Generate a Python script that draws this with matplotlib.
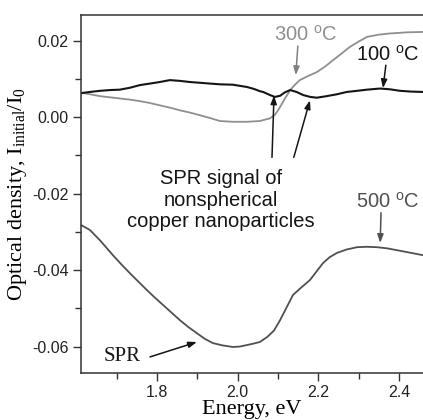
import matplotlib
matplotlib.use('Agg')
import matplotlib.pyplot as plt
from matplotlib.ticker import MultipleLocator

# 100 C curve (black)
e_100 = [1.612, 1.634, 1.659, 1.684, 1.708, 1.733, 1.758, 1.783, 1.807, 1.832, 1.857, 1.882,
         1.907, 1.931, 1.956, 1.988, 2.023, 2.040, 2.055, 2.063, 2.080, 2.092, 2.105, 2.117,
         2.130, 2.146, 2.162, 2.180, 2.196, 2.220, 2.246, 2.270, 2.296, 2.320, 2.353, 2.377,
         2.402, 2.430, 2.459]
od_100 = [0.0063, 0.0066, 0.0069, 0.0071, 0.0072, 0.0077, 0.0084, 0.0088, 0.0092, 0.0097,
          0.0095, 0.0092, 0.0090, 0.0088, 0.0086, 0.0085, 0.0079, 0.0074, 0.0068, 0.0066,
          0.0058, 0.0053, 0.0056, 0.0065, 0.0071, 0.0066, 0.0058, 0.0053, 0.0051, 0.0055,
          0.0060, 0.0066, 0.0069, 0.0072, 0.0075, 0.0073, 0.0069, 0.0067, 0.0066]

# 300 C curve (light grey)
e_300 = [1.612, 1.634, 1.659, 1.684, 1.708, 1.733, 1.758, 1.783, 1.807, 1.832, 1.857, 1.882,
         1.907, 1.931, 1.956, 1.988, 2.023, 2.055, 2.080, 2.092, 2.100, 2.108, 2.117, 2.125,
         2.130, 2.142, 2.154, 2.175, 2.196, 2.216, 2.236, 2.258, 2.278, 2.300, 2.320, 2.350,
         2.377, 2.420, 2.459]
od_300 = [0.0064, 0.0060, 0.0055, 0.0052, 0.0049, 0.0046, 0.0042, 0.0037, 0.0031, 0.0025,
          0.0018, 0.0012, 0.0005, -0.0002, -0.0010, -0.0012, -0.0012, -0.0010, -0.0003, 0.0006,
          0.0018, 0.0032, 0.0049, 0.0062, 0.0071, 0.0085, 0.0097, 0.0108, 0.0118, 0.0132,
          0.0149, 0.0167, 0.0184, 0.0198, 0.0210, 0.0216, 0.0219, 0.0222, 0.0223]

# 500 C curve (dark grey)
e_500 = [1.612, 1.634, 1.659, 1.691, 1.712, 1.733, 1.754, 1.775, 1.795, 1.815, 1.836, 1.857,
         1.878, 1.899, 1.919, 1.939, 1.963, 1.988, 2.005, 2.023, 2.040, 2.055, 2.073, 2.090,
         2.105, 2.120, 2.137, 2.158, 2.179, 2.195, 2.211, 2.228, 2.246, 2.270, 2.296, 2.320,
         2.345, 2.370, 2.395, 2.425, 2.459]
od_500 = [-0.0282, -0.0295, -0.0322, -0.0361, -0.0385, -0.0408, -0.0430, -0.0452, -0.0472,
          -0.0491, -0.0511, -0.0531, -0.0549, -0.0565, -0.0580, -0.0591, -0.0597, -0.0601,
          -0.0600, -0.0596, -0.0592, -0.0588, -0.0575, -0.0558, -0.0531, -0.0500, -0.0465,
          -0.0445, -0.0426, -0.0404, -0.0382, -0.0366, -0.0355, -0.0346, -0.0340, -0.0339,
          -0.0340, -0.0343, -0.0348, -0.0354, -0.0361]

x_ticks = [1.8, 2.0, 2.2, 2.4]
y_ticks = [-0.06, -0.04, -0.02, 0.00, 0.02]

sans = 'Liberation Sans'
serif = 'Liberation Serif'

plt.rcParams['mathtext.fontset'] = 'custom'
plt.rcParams['mathtext.rm'] = serif
plt.rcParams['mathtext.it'] = serif + ':italic'

fig = plt.figure(figsize=(4.23, 4.2), dpi=100)
ax = fig.add_axes([0.1915, 0.112, 0.8085, 0.852])

ax.plot(e_500, od_500, color='#505050', lw=1.3)
ax.plot(e_300, od_300, color='#8f8f8f', lw=1.3)
ax.plot(e_100, od_100, color='#151515', lw=1.5)

ax.set_xlim(1.612, 2.459)
ax.set_ylim(-0.0669, 0.0267)
ax.set_xticks(x_ticks)
ax.set_xticklabels(['%.1f' % v for v in x_ticks])
ax.set_yticks(y_ticks)
ax.set_yticklabels(['%.2f' % v for v in y_ticks])
ax.xaxis.set_minor_locator(MultipleLocator(0.1))
ax.yaxis.set_minor_locator(MultipleLocator(0.01))
ax.tick_params(which='major', direction='out', length=6, width=1, color='#333333',
               labelsize=11.5, labelcolor='#222222', pad=3)
ax.tick_params(which='minor', direction='out', length=4, width=1, color='#333333')
for lab in ax.get_xticklabels() + ax.get_yticklabels():
    lab.set_fontfamily(sans)
ax.spines['right'].set_visible(False)
for s in ['left', 'top', 'bottom']:
    ax.spines[s].set_color('#333333')
    ax.spines[s].set_linewidth(1.1)

ax.set_xlabel('Energy, eV', fontfamily=serif, fontsize=16, labelpad=0)
ax.set_ylabel(r'Optical density, I$_{\mathrm{initial}}$/I$_{\mathrm{0}}$',
              fontfamily=serif, fontsize=16, labelpad=2)

arrow_black = dict(arrowstyle='-|>,head_length=0.5,head_width=0.18', color='#151515', lw=1.1,
                   shrinkA=0, shrinkB=0)
arrow_grey = dict(arrowstyle='-|>,head_length=0.5,head_width=0.18', color='#808080', lw=1.1,
                  shrinkA=0, shrinkB=0)
arrow_dark = dict(arrowstyle='-|>,head_length=0.5,head_width=0.18', color='#505050', lw=1.1,
                  shrinkA=0, shrinkB=0)

ax.text(2.169, 0.0214, '300 $^{\\mathregular{o}}$C', color='#8f8f8f', fontfamily=sans,
        fontsize=14.5, ha='center', va='center')
ax.annotate('', xy=(2.144, 0.0110), xytext=(2.149, 0.0186), arrowprops=arrow_grey)

ax.text(2.372, 0.0162, '100 $^{\\mathregular{o}}$C', color='#151515', fontfamily=sans,
        fontsize=14.5, ha='center', va='center')
ax.annotate('', xy=(2.360, 0.0076), xytext=(2.367, 0.0136), arrowprops=arrow_black)

ax.text(1.959, -0.0217, 'SPR signal of\nnonspherical\ncopper nanoparticles', color='#151515',
        fontfamily=sans, fontsize=14.5, ha='center', va='center', linespacing=1.15)
ax.annotate('', xy=(2.090, 0.0057), xytext=(2.085, -0.0105), arrowprops=arrow_black)
ax.annotate('', xy=(2.179, 0.0044), xytext=(2.139, -0.0105), arrowprops=arrow_black)

ax.text(2.372, -0.0222, '500 $^{\\mathregular{o}}$C', color='#505050', fontfamily=sans,
        fontsize=14.5, ha='center', va='center')
ax.annotate('', xy=(2.353, -0.0329), xytext=(2.355, -0.0250), arrowprops=arrow_dark)

ax.text(1.713, -0.0627, 'SPR', color='#151515', fontfamily=serif, fontsize=15,
        ha='center', va='center')
ax.annotate('', xy=(1.899, -0.0588), xytext=(1.783, -0.0627), arrowprops=arrow_black)

fig.savefig('out.png', dpi=100)
